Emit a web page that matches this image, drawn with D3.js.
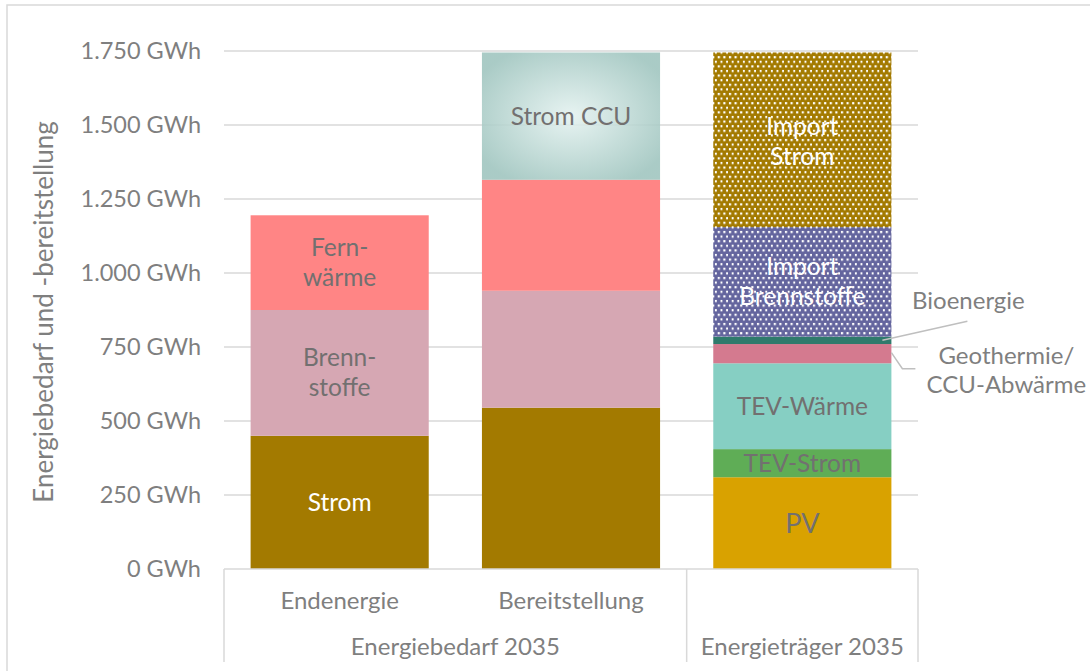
<!DOCTYPE html>
<html lang="de">
<head>
<meta charset="utf-8">
<title>Energiebedarf und -bereitstellung 2035</title>
<script src="https://cdn.jsdelivr.net/npm/d3@7"></script>
<style>
  html, body { margin: 0; padding: 0; background: #ffffff; }
  svg { display: block; font-family: Lato, "Open Sans", sans-serif; }
</style>
</head>
<body>
<svg id="chart" width="1090" height="671"></svg>
<script>
// Categories (first level) and their groups (second level)
const categories = ["Endenergie", "Bereitstellung", "Träger"];
const categoryLabels = ["Endenergie", "Bereitstellung", ""];
const groupOf = ["Energiebedarf 2035", "Energiebedarf 2035", "Energieträger 2035"];

// Stack order, bottom to top
const seriesKeys = ["Strom", "Brennstoffe", "Fernwärme", "Strom CCU", "PV", "TEV-Strom",
  "TEV-Wärme", "Geothermie/CCU-Abwärme", "Bioenergie", "Import Brennstoffe", "Import Strom"];

// Values in GWh per category
const strom             = [450, 545, 0];
const brennstoffe       = [425, 395, 0];
const fernwaerme        = [320, 375, 0];
const stromCCU          = [0, 430, 0];
const pv                = [0, 0, 310];
const tevStrom          = [0, 0, 95];
const tevWaerme         = [0, 0, 290];
const geothermie        = [0, 0, 65];
const bioenergie        = [0, 0, 25];
const importBrennstoffe = [0, 0, 370];
const importStrom       = [0, 0, 590];

const yTicks = [0, 250, 500, 750, 1000, 1250, 1500, 1750];

// In-bar labels: [series, category index, text lines]
const barLabels = [
  ["Strom", 0, ["Strom"]],
  ["Brennstoffe", 0, ["Brenn-", "stoffe"]],
  ["Fernwärme", 0, ["Fern-", "wärme"]],
  ["Strom CCU", 1, ["Strom CCU"]],
  ["PV", 2, ["PV"]],
  ["TEV-Strom", 2, ["TEV-Strom"]],
  ["TEV-Wärme", 2, ["TEV-Wärme"]],
  ["Import Brennstoffe", 2, ["Import", "Brennstoffe"]],
  ["Import Strom", 2, ["Import", "Strom"]]
];
// Labels outside the bar with leader lines
const calloutLabels = [
  ["Bioenergie", 2, ["Bioenergie"]],
  ["Geothermie/CCU-Abwärme", 2, ["Geothermie/", "CCU-Abwärme"]]
];

const valueArrays = [strom, brennstoffe, fernwaerme, stromCCU, pv, tevStrom, tevWaerme,
  geothermie, bioenergie, importBrennstoffe, importStrom];

const table = categories.map((c, i) => {
  const row = { category: c };
  seriesKeys.forEach((k, j) => { row[k] = valueArrays[j][i]; });
  return row;
});

// ---- styling ----
const fills = {
  "Strom": "#A37A00",
  "Brennstoffe": "#D6A7B3",
  "Fernwärme": "#FF8585",
  "Strom CCU": "url(#ccuGrad)",
  "PV": "#D9A200",
  "TEV-Strom": "#5FAD56",
  "TEV-Wärme": "#86CFC3",
  "Geothermie/CCU-Abwärme": "#D47A8F",
  "Bioenergie": "#2F7A6C",
  "Import Brennstoffe": "url(#dotsBlue)",
  "Import Strom": "url(#dotsGold)"
};
const labelColor = {
  "Strom": "#ffffff",
  "Import Strom": "#ffffff",
  "Import Brennstoffe": "#ffffff"
};
const grayText = "#7F7F7F";
const barText = "#727070";

const svg = d3.select("#chart");
const margin = { left: 224, right: 1090 - 918, top: 51, bottom: 671 - 569 };

// chart border
svg.append("rect")
  .attr("x", 7).attr("y", 5).attr("width", 1100).attr("height", 700)
  .attr("fill", "none").attr("stroke", "#D9D9D9").attr("stroke-width", 1.5);

const defs = svg.append("defs");
const grad = defs.append("radialGradient").attr("id", "ccuGrad")
  .attr("cx", "50%").attr("cy", "50%").attr("r", "60%");
grad.append("stop").attr("offset", "0%").attr("stop-color", "#E4F2F0");
grad.append("stop").attr("offset", "100%").attr("stop-color", "#9EC4BE");

function dots(id, base) {
  const p = defs.append("pattern").attr("id", id)
    .attr("patternUnits", "userSpaceOnUse").attr("width", 5.6).attr("height", 9.2);
  p.append("rect").attr("width", 5.6).attr("height", 9.2).attr("fill", base);
  p.append("rect").attr("x", 0.9).attr("y", 0.9).attr("width", 2.2).attr("height", 2.2).attr("fill", "#ffffff");
  p.append("rect").attr("x", 3.7).attr("y", 5.5).attr("width", 2.2).attr("height", 2.2).attr("fill", "#ffffff");
}
dots("dotsGold", "#A37A00");
dots("dotsBlue", "#64659E");

const x = d3.scaleBand().domain(categories)
  .range([margin.left, 1090 - margin.right])
  .paddingInner(0.23).paddingOuter(0.115);
const y = d3.scaleLinear().domain([0, 1750]).range([671 - margin.bottom, margin.top]);

// grid lines
svg.append("g").selectAll("line").data(yTicks.slice(1)).join("line")
  .attr("x1", x.range()[0]).attr("x2", x.range()[1])
  .attr("y1", d => y(d)).attr("y2", d => y(d))
  .attr("stroke", "#D9D9D9").attr("stroke-width", 1.5);

// y axis labels
const yAxis = d3.axisLeft(y).tickValues(yTicks).tickSize(0).tickPadding(0)
  .tickFormat(d => d3.format(",")(d).replace(/,/g, ".") + " GWh");
const yg = svg.append("g").attr("transform", `translate(${201},0)`).call(yAxis);
yg.select(".domain").remove();
yg.selectAll("text").attr("fill", grayText).attr("font-size", 23.5).attr("font-family", "Lato");

svg.append("text")
  .attr("transform", `translate(53,${(y(0) + y(1750)) / 2 + 2}) rotate(-90)`)
  .attr("text-anchor", "middle").attr("fill", grayText).attr("font-size", 26)
  .text("Energiebedarf und -bereitstellung");

// stacked bars
const stacked = d3.stack().keys(seriesKeys)(table);
const layers = svg.append("g").selectAll("g").data(stacked).join("g")
  .attr("fill", d => fills[d.key])
  .attr("fill-opacity", d => d.key === "Strom CCU" ? 0.88 : 1);
layers.selectAll("rect").data(d => d.filter(s => s[1] > s[0])).join("rect")
  .attr("x", d => x(d.data.category))
  .attr("width", x.bandwidth())
  .attr("y", d => y(d[1]))
  .attr("height", d => y(d[0]) - y(d[1]));

function segment(key, ci) {
  const layer = stacked.find(l => l.key === key);
  return layer[ci];
}

// labels in bars
const lineH = 30;
barLabels.forEach(([key, ci, lines]) => {
  const s = segment(key, ci);
  const cx = x(categories[ci]) + x.bandwidth() / 2;
  const cy = y((s[0] + s[1]) / 2) + (key === "Import Strom" ? 1.5 : 0);
  const t = svg.append("text").attr("text-anchor", "middle")
    .attr("fill", labelColor[key] || barText)
    .attr("font-size", key === "PV" ? 27 : 24.5);
  lines.forEach((ln, i) => {
    t.append("tspan").attr("x", cx)
      .attr("y", cy + (i - (lines.length - 1) / 2) * lineH)
      .attr("dy", "0.35em").text(ln);
  });
});

// callouts with leader lines
const leaderColor = "#BFBFBF";
{
  const [key, ci, lines] = calloutLabels[0];
  const s = segment(key, ci);
  const my = y((s[0] + s[1]) / 2);
  const bx = x(categories[ci]) + x.bandwidth();
  svg.append("path")
    .attr("d", d3.line()([[bx - 9, my], [bx + 76, my - 19]]))
    .attr("stroke", leaderColor).attr("stroke-width", 1.5).attr("fill", "none");
  svg.append("text").attr("x", bx + 77).attr("y", my - 40).attr("dy", "0.35em")
    .attr("text-anchor", "middle").attr("fill", grayText).attr("font-size", 24).text(lines[0]);
}
{
  const [key, ci, lines] = calloutLabels[1];
  const s = segment(key, ci);
  const my = y((s[0] + s[1]) / 2);
  const bx = x(categories[ci]) + x.bandwidth();
  svg.append("path")
    .attr("d", d3.line()([[bx, my - 1], [bx + 11, my + 15], [bx + 24, my + 15]]))
    .attr("stroke", leaderColor).attr("stroke-width", 1.5).attr("fill", "none");
  const t = svg.append("text").attr("text-anchor", "middle").attr("fill", grayText).attr("font-size", 24);
  lines.forEach((ln, i) => {
    t.append("tspan").attr("x", bx + 115).attr("y", my + 16 + (i - 0.5) * 29)
      .attr("dy", "0.35em").text(ln);
  });
}

// multi-level category axis
const axisY = y(0);
const axisBottom = 662;
const ax = svg.append("g").attr("stroke", "#D9D9D9").attr("stroke-width", 1.5);
ax.append("line").attr("x1", x.range()[0]).attr("x2", x.range()[1])
  .attr("y1", axisY).attr("y2", axisY);

// group boundaries
const groupNames = Array.from(new Set(groupOf));
const bounds = [x.range()[0]];
groupNames.forEach(g => {
  const idx = groupOf.map((v, i) => v === g ? i : -1).filter(i => i >= 0);
  const last = categories[idx[idx.length - 1]];
  bounds.push(x(last) + x.bandwidth() + x.step() * x.paddingInner() / 2);
});
bounds[bounds.length - 1] = x.range()[1];
bounds.forEach(bx => {
  ax.append("line").attr("x1", bx).attr("x2", bx).attr("y1", axisY).attr("y2", axisBottom);
});

svg.append("g").selectAll("text").data(categories).join("text")
  .attr("x", d => x(d) + x.bandwidth() / 2)
  .attr("y", 601).attr("dy", "0.35em")
  .attr("text-anchor", "middle").attr("fill", grayText).attr("font-size", 24)
  .text((d, i) => categoryLabels[i]);

svg.append("g").selectAll("text").data(groupNames).join("text")
  .attr("x", (g, i) => (bounds[i] + bounds[i + 1]) / 2)
  .attr("y", 647).attr("dy", "0.35em")
  .attr("text-anchor", "middle").attr("fill", grayText).attr("font-size", 24)
  .text(d => d);
</script>
</body>
</html>
